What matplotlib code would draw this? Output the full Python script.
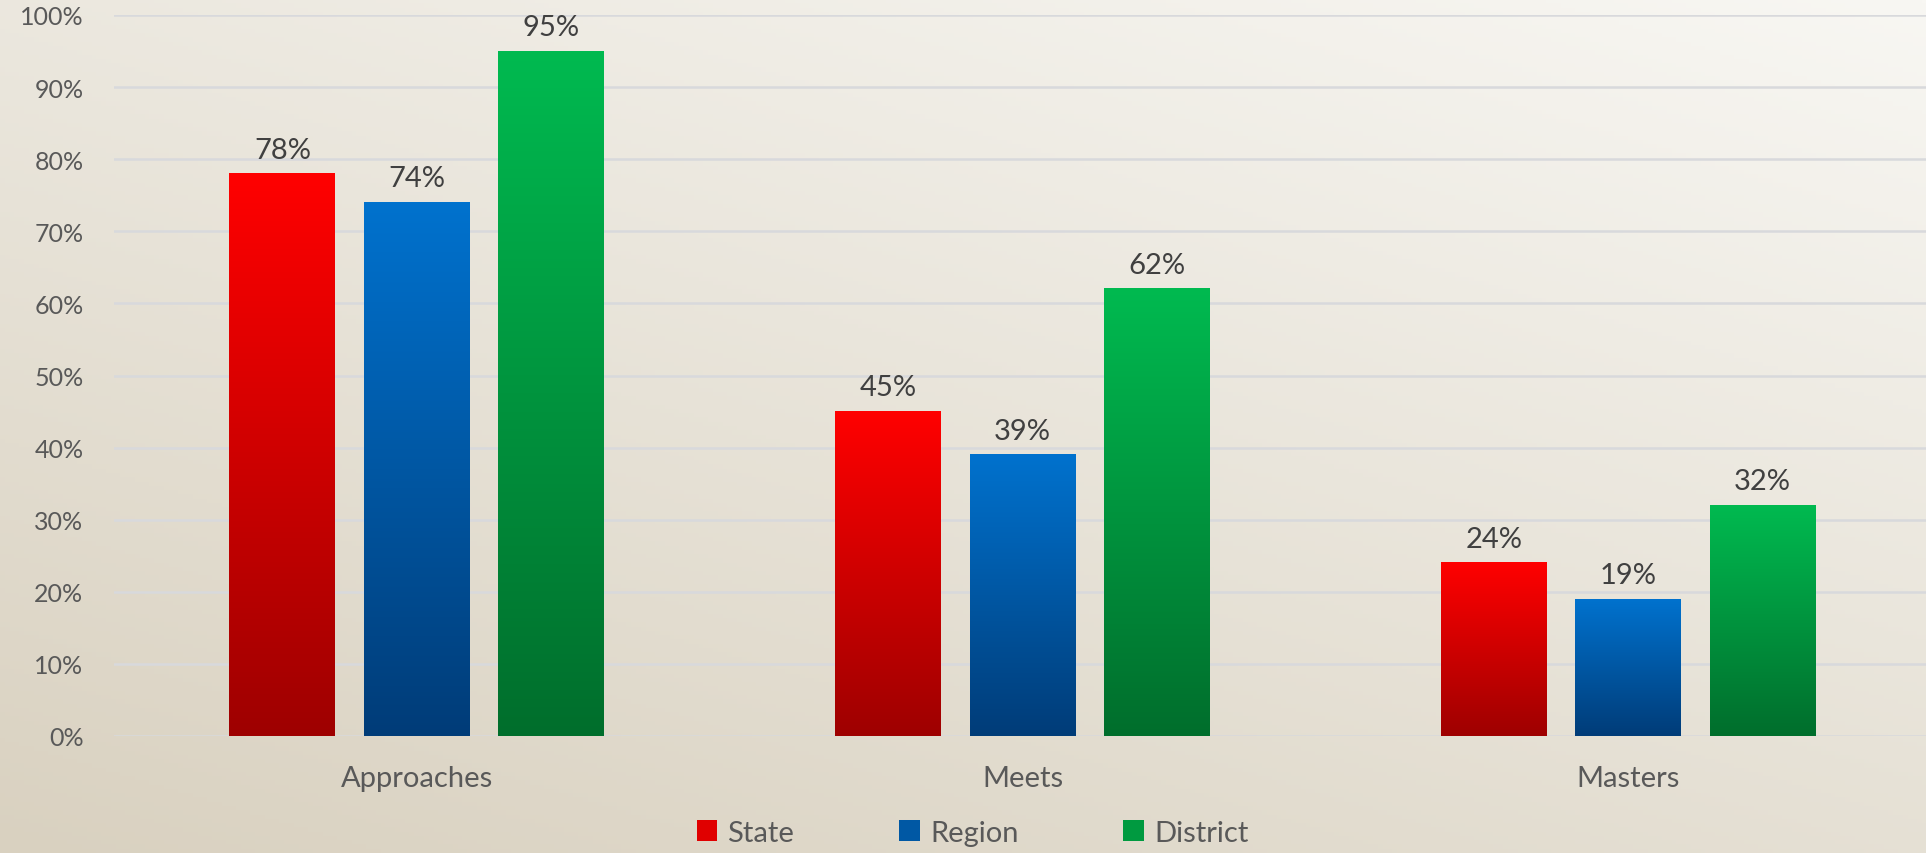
import numpy as np
import matplotlib
matplotlib.use("Agg")
import matplotlib.pyplot as plt
from matplotlib.colors import LinearSegmentedColormap
from matplotlib.patches import Patch

plt.rcParams['font.family'] = ['Lato', 'DejaVu Sans']

categories = ["Approaches", "Meets", "Masters"]
series = ["State", "Region", "District"]
state = [0.78, 0.45, 0.24]
region = [0.74, 0.39, 0.19]
district = [0.95, 0.62, 0.32]
yticks = [0, 0.1, 0.2, 0.3, 0.4, 0.5, 0.6, 0.7, 0.8, 0.9, 1.0]

# gradient colours per series: (top, bottom)
grads = [("#FF0000", "#9E0000"), ("#0072CE", "#003C78"), ("#00BA50", "#006E2C")]
mids = ["#E00000", "#0058A4", "#009A40"]

fig = plt.figure(figsize=(19.26, 8.54), dpi=100)

# background gradient, lighter at top right, beige at bottom left
bg = fig.add_axes([0, 0, 1, 1], zorder=-10)
yy, xx = np.mgrid[0:1:200j, 0:1:400j]  # row 0 = top
t = 0.6 * yy + 0.4 * (1 - xx)
light = np.array([0xF8, 0xF7, 0xF3]) / 255
dark = np.array([0xD9, 0xD1, 0xC0]) / 255
img = light[None, None, :] * (1 - t[..., None]) + dark[None, None, :] * t[..., None]
bg.imshow(img, aspect='auto', extent=(0, 1, 0, 1), origin='upper')
bg.axis('off')

ax = fig.add_axes([114 / 1926, 1 - 737 / 854, 1817 / 1926, (737 - 16) / 854])
ax.set_facecolor('none')

x = np.arange(len(categories))
w = 0.175
step = 0.222
for i, vals in enumerate([state, region, district]):
    pos = x + (i - 1) * step
    bars = ax.bar(pos, vals, width=w, color='none', zorder=3)
    cmap = LinearSegmentedColormap.from_list("g%d" % i, [grads[i][1], grads[i][0]])
    for b, v in zip(bars, vals):
        x0 = b.get_x()
        grad = np.linspace(1, 0, 256).reshape(-1, 1)
        ax.imshow(grad, cmap=cmap, aspect='auto', extent=(x0, x0 + w, 0, v),
                  zorder=3, vmin=0, vmax=1)
        ax.annotate("{:.0%}".format(v), (x0 + w / 2, v), xytext=(0, 8),
                    textcoords='offset points', ha='center', va='bottom',
                    fontsize=21, color='#404040', zorder=4)

ax.set_xlim(-0.5, 2.5)
ax.set_ylim(0, 1.0)
ax.set_yticks(yticks)
ax.set_yticklabels(["{:.0%}".format(v) for v in yticks])
ax.set_xticks(x)
ax.set_xticklabels(categories)
ax.grid(axis='y', color='#D8D9DC', linewidth=1.8, zorder=0)
ax.set_axisbelow(True)
for s in ax.spines.values():
    s.set_visible(False)
ax.tick_params(axis='y', length=0, pad=22, labelsize=18, labelcolor='#595959')
ax.tick_params(axis='x', length=0, pad=21, labelsize=21, labelcolor='#595959')

handles = [Patch(facecolor=c, edgecolor='none') for c in mids]
fig.legend(handles, series, loc='center', bbox_to_anchor=(0.505, 0.024), ncol=3,
           frameon=False, fontsize=21, labelcolor='#595959',
           handlelength=0.7, handleheight=0.7, handletextpad=0.35,
           columnspacing=3.6)

fig.savefig("out.png", dpi=100)
